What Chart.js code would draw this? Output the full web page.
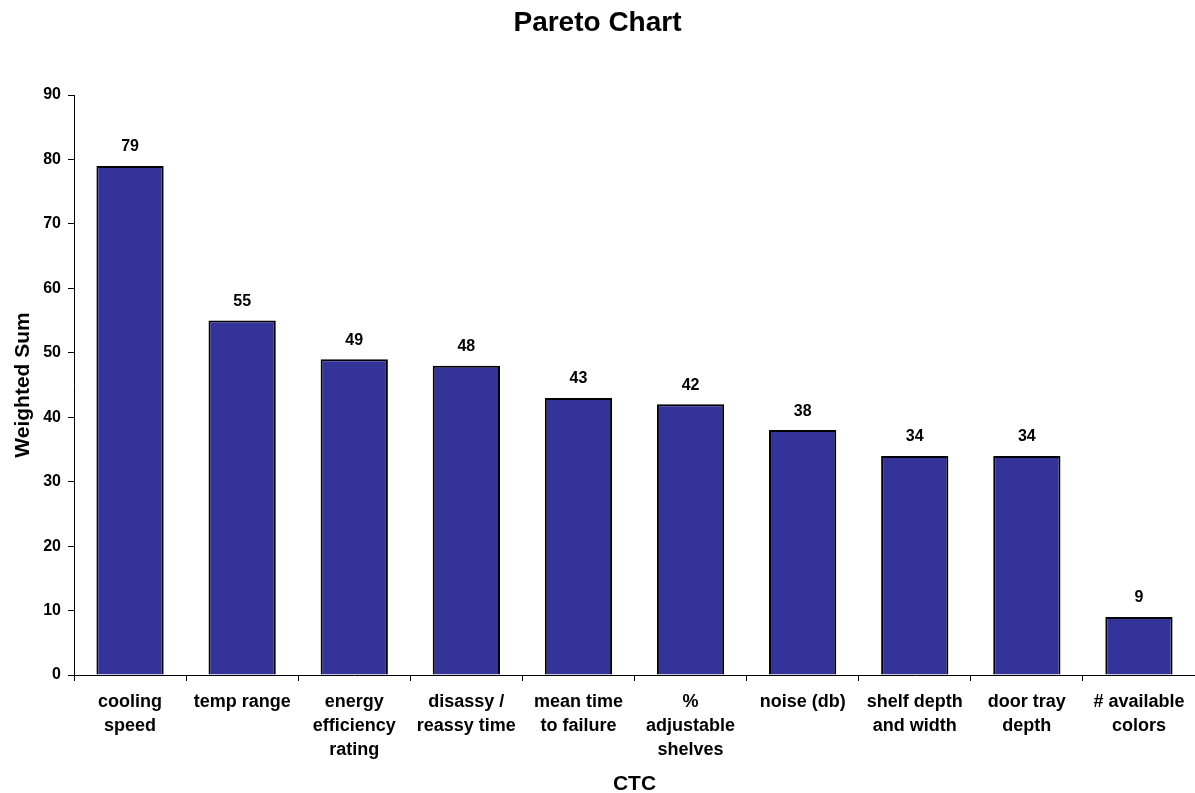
<!DOCTYPE html>
<html>
<head>
<meta charset="utf-8">
<script src="https://cdn.jsdelivr.net/npm/chart.js@4/dist/chart.umd.min.js"></script>
<style>
  html, body { margin: 0; padding: 0; background: #fff; }
  #wrap { width: 1195px; height: 793px; }
</style>
</head>
<body>
<div id="wrap"><canvas id="chart" width="1195" height="793"></canvas></div>
<script>
// Categories (CTC) and their weighted sums, sorted high to low
const categories = [
  ['cooling', 'speed'],
  'temp range',
  ['energy', 'efficiency', 'rating'],
  ['disassy /', 'reassy time'],
  ['mean time', 'to failure'],
  ['%', 'adjustable', 'shelves'],
  'noise (db)',
  ['shelf depth', 'and width'],
  ['door tray', 'depth'],
  ['# available', 'colors']
];
const weightedSum = [79, 55, 49, 48, 43, 42, 38, 34, 34, 9];
const yTicks = [0, 10, 20, 30, 40, 50, 60, 70, 80, 90];

const FONT = "'Liberation Sans', Arial, sans-serif";

// Writes each bar's value just above it
const valueLabels = {
  id: 'valueLabels',
  afterDatasetsDraw(chart) {
    const ctx = chart.ctx;
    const meta = chart.getDatasetMeta(0);
    ctx.save();
    ctx.font = "bold 16px " + FONT;
    ctx.fillStyle = '#000';
    ctx.textAlign = 'center';
    ctx.textBaseline = 'middle';
    meta.data.forEach((bar, i) => {
      ctx.fillText(String(weightedSum[i]), bar.x, bar.y - 19);
    });
    ctx.restore();
  }
};

new Chart(document.getElementById('chart'), {
  type: 'bar',
  data: {
    labels: categories,
    datasets: [{
      data: weightedSum,
      backgroundColor: '#333399',
      borderColor: '#000000',
      borderWidth: 2,
      borderSkipped: 'bottom',
      barPercentage: 0.6,
      categoryPercentage: 1.0
    }]
  },
  options: {
    responsive: false,
    animation: false,
    devicePixelRatio: 1,
    layout: { padding: { left: 0, right: 0, top: 0, bottom: 0 } },
    plugins: {
      legend: { display: false },
      tooltip: { enabled: false },
      title: {
        display: true,
        text: 'Pareto Chart',
        color: '#000',
        font: { family: FONT, size: 28, weight: 'bold' },
        padding: { top: 6, bottom: 55.4 }
      }
    },
    scales: {
      x: {
        offset: true,
        grid: {
          display: true,
          drawOnChartArea: false,
          drawTicks: true,
          tickLength: 6,
          color: '#000',
          offset: true
        },
        border: { display: true, color: '#000', width: 1 },
        ticks: {
          color: '#000',
          font: { family: FONT, size: 18, weight: 'bold', lineHeight: 1.3333 },
          padding: 9,
          maxRotation: 0,
          autoSkip: false
        },
        title: {
          display: true,
          text: 'CTC',
          color: '#000',
          font: { family: FONT, size: 21, weight: 'bold' },
          padding: { top: 4, bottom: -4 }
        },
        afterFit(scale) { scale.height = 118; }
      },
      y: {
        min: 0,
        max: 90,
        afterBuildTicks(scale) { scale.ticks = yTicks.map(v => ({ value: v })); },
        grid: {
          display: true,
          drawOnChartArea: false,
          drawTicks: true,
          tickLength: 6,
          color: '#000'
        },
        border: { display: true, color: '#000', width: 1 },
        ticks: {
          color: '#000',
          font: { family: FONT, size: 16, weight: 'bold' },
          padding: 7
        },
        title: {
          display: true,
          text: 'Weighted Sum',
          color: '#000',
          font: { family: FONT, size: 21, weight: 'bold' },
          padding: { top: 11, bottom: 4 }
        },
        afterFit(scale) { scale.width = 74; }
      }
    }
  },
  plugins: [valueLabels]
});
</script>
</body>
</html>
